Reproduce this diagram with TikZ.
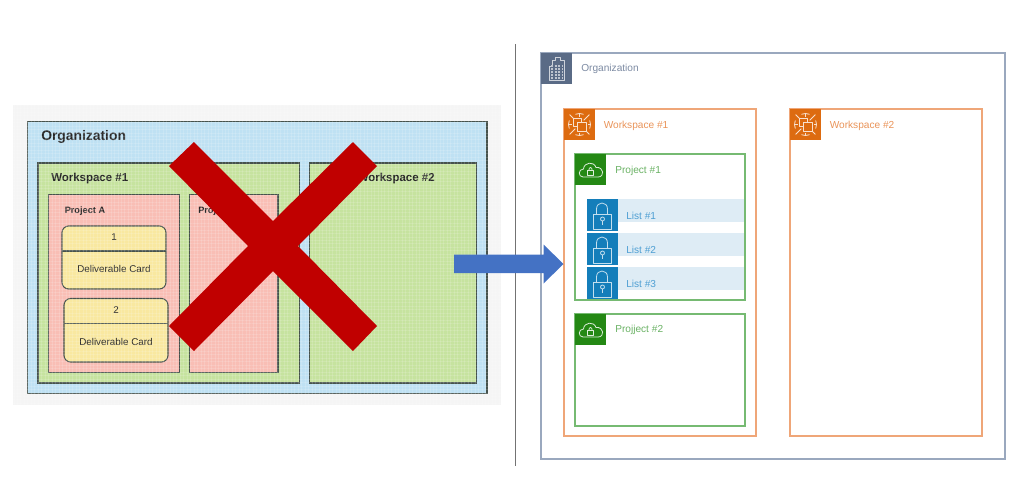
\documentclass[tikz,border=0pt]{standalone}
\usepackage{fontspec}
\setmainfont{Liberation Sans}
\usetikzlibrary{patterns.meta}
\definecolor{orgL}{HTML}{BFE1F3}
\definecolor{wsL}{HTML}{C6E39F}
\definecolor{prL}{HTML}{F9BEB5}
\definecolor{cdL}{HTML}{F9E8A0}
\definecolor{darkL}{HTML}{46524C}
\definecolor{xred}{HTML}{C00000}
\definecolor{arrowb}{HTML}{4472C4}
\definecolor{orgR}{HTML}{9AA8BE}
\definecolor{orgI}{HTML}{5A6B86}
\definecolor{orgT}{HTML}{7D8BA3}
\definecolor{wsR}{HTML}{EFA678}
\definecolor{wsI}{HTML}{DD6B10}
\definecolor{prR}{HTML}{76BA72}
\definecolor{prI}{HTML}{248814}
\definecolor{liI}{HTML}{147EBA}
\definecolor{liB}{HTML}{DEECF5}
\definecolor{liT}{HTML}{4E9FD3}
\tikzset{
  x=0.75pt,y=-0.75pt,
  boxL/.style={draw=darkL,line width=0.8pt,sharp corners},
  cardL/.style={boxL,fill=cdL,rounded corners=5pt},
  lblL/.style={anchor=west,inner sep=0pt,text=black!85},
  orgbox/.style={draw=orgR,line width=1pt},
  wsbox/.style={draw=wsR,line width=1pt},
  prbox/.style={draw=prR,line width=1pt},
  lbl/.style={anchor=west,inner sep=0pt,font=\fontsize{7.6}{9}\selectfont},
  ic/.style={line width=0.6pt,fill=none,line join=round},
  pics/wsicon/.style={code={
    \fill[wsI] (0,0) rectangle (31,31);
    \begin{scope}[shift={(15.5,15.5)},white!80!wsI]
      \foreach \aa in {0,90,180,270}{
        \draw[ic,white!80!wsI] (\aa+22:11) arc[start angle=\aa+22,end angle=\aa-22,radius=11];
        \draw[ic,white!80!wsI] (\aa:11) -- (\aa:8);
        \draw[ic,white!80!wsI] (\aa+45:14) -- (\aa+45:6);
      }
      \draw[ic,white!80!wsI,fill=wsI] (-6.5,-6.5) rectangle (2,2);
      \draw[ic,white!80!wsI,fill=wsI] (-2,-2) rectangle (6.5,6.5);
    \end{scope}
  }},
  pics/cloudicon/.style={code={
    \fill[prI] (0,0) rectangle (31,31);
    \draw[ic,white!85!prI] (8,23) .. controls (3,23) and (3,15) .. (8.5,15)
      .. controls (9,8) and (19,7) .. (21,13.5) .. controls (29,12.5) and (30,23) .. (23,23) -- cycle;
    \draw[ic,white!85!prI] (12.5,16.5) rectangle (18.5,21);
    \draw[ic,white!85!prI] (13.8,16.5) .. controls (13.8,12.5) and (17.2,12.5) .. (17.2,16.5);
  }},
  pics/lockicon/.style={code={
    \fill[liI] (0,0) rectangle (31.5,32);
    \draw[ic,white!75!liI] (7,15) rectangle (25,30);
    \draw[ic,white!75!liI] (10,15) -- (10,10) .. controls (10,2) and (21,2) .. (21,10) -- (21,15);
    \draw[ic,white!75!liI] (16,20) circle (2);
    \draw[ic,white!75!liI] (16,22) -- (16,26);
  }},
  pics/bldicon/.style={code={
    \fill[orgI] (0,0) rectangle (31,31);
    \draw[ic,white!70!orgI] (8,27) -- (8,13) -- (11,13) -- (11,7) -- (14,7) -- (14,4) -- (19,4) -- (19,7) -- (23,7) -- (23,27) -- cycle;
    \foreach \yy in {13,16,19,22,25}{
      \draw[white!60!orgI,line width=0.8pt,dash pattern=on 1.5pt off 1.2pt] (10,\yy) -- (21.5,\yy);
    }
  }},
}
\begin{document}
\begin{tikzpicture}
\useasboundingbox (0,0) rectangle (1024,483);
\fill[white] (0,0) rectangle (1024,483);
% left panel
\fill[black!4] (13,105) rectangle (501,405);
\path[boxL,fill=orgL] (27.5,121.5) rectangle (487,393.5);
\path[boxL,fill=wsL] (38,163) rectangle (299.5,383);
\path[boxL,fill=wsL] (309.5,163) rectangle (476.5,383);
\path[boxL,fill=prL] (48.5,194.5) rectangle (179.5,372.5);
\path[boxL,fill=prL] (189.5,194.5) rectangle (278,372.5);
\path[cardL] (62,226) rectangle (166,289);
\draw[boxL] (62,251) -- (166,251);
\path[cardL] (64,298.5) rectangle (168,362);
\draw[boxL] (64,323.5) -- (168,323.5);
\node[lblL,font=\fontsize{10.4}{12}\bfseries\selectfont] (tOrgL) at (41,136.5) {Organization};
\node[lblL,font=\fontsize{8.6}{10}\bfseries\selectfont] (tW1L) at (51,178.5) {Workspace \#1};
\node[lblL,font=\fontsize{8.6}{10}\bfseries\selectfont] (tW2L) at (357.5,178.5) {Workspace \#2};
\node[lblL,font=\fontsize{6.9}{8}\bfseries\selectfont] (tPA) at (64.5,211.5) {Project A};
\node[lblL,font=\fontsize{6.9}{8}\bfseries\selectfont] (tPB) at (198,211.5) {Project};
\node[inner sep=0pt,font=\fontsize{7.4}{9}\selectfont,text=black!85] (c1n) at (114,237.5) {1};
\node[inner sep=0pt,font=\fontsize{7.4}{9}\selectfont,text=black!85] (c1t) at (114,269) {Deliverable Card};
\node[inner sep=0pt,font=\fontsize{7.4}{9}\selectfont,text=black!85] (c2n) at (116,310) {2};
\node[inner sep=0pt,font=\fontsize{7.4}{9}\selectfont,text=black!85] (c2t) at (116,342) {Deliverable Card};
% canvas texture
\fill[pattern={Lines[angle=0,distance=2.6pt,line width=0.5pt]},pattern color=white,opacity=0.14] (13,105) rectangle (501,405);
\fill[pattern={Lines[angle=90,distance=2.6pt,line width=0.5pt]},pattern color=white,opacity=0.14] (13,105) rectangle (501,405);
% red cross
\fill[xred] (194,142) -- (273,221) -- (353,142) -- (377,166) -- (298,246) -- (377,326) -- (353,351) -- (273,271) -- (194,351) -- (169,326) -- (248,246) -- (169,166) -- cycle;
% divider
\coordinate (divT) at (515,44);
\coordinate (divB) at (515,466);
\draw[black!55,line width=0.6pt] (divT) -- (divB);
% right panel
\draw[orgbox] (541,53) rectangle (1005,459);
\pic at (541,53) {bldicon};
\node[lbl,text=orgT] (tOrgR) at (581,69) {Organization};
\draw[wsbox] (564,109) rectangle (756,436);
\pic at (564,109) {wsicon};
\node[lbl,text=wsR!70!wsI] (tW1R) at (603.5,125.5) {Workspace \#1};
\draw[wsbox] (790,109) rectangle (982,436);
\pic at (790,109) {wsicon};
\node[lbl,text=wsR!70!wsI] (tW2R) at (829.5,125.5) {Workspace \#2};
\draw[prbox] (575,154) rectangle (745,300);
\pic at (575,154) {cloudicon};
\node[lbl,text=prR!85!prI] (tP1) at (615,170.5) {Project \#1};
\draw[prbox] (575,314) rectangle (745,426);
\pic at (575,314) {cloudicon};
\node[lbl,text=prR!85!prI] (tP2) at (615,329.5) {Projject \#2};
\foreach \yy/\nn in {199/1,233/2,267/3}{
  \fill[liB] (618,\yy) rectangle (744,\yy+23);
  \pic at (586.5,\yy) {lockicon};
  \node[lbl,text=liT] (tL\nn) at (626,\yy+17) {List \#\nn};
}
% arrow
\fill[arrowb] (454,254.5) -- (543.5,254.5) -- (543.5,244.5) -- (563.5,264) -- (543.5,283.5) -- (543.5,273) -- (454,273) -- cycle;
\end{tikzpicture}
\end{document}
